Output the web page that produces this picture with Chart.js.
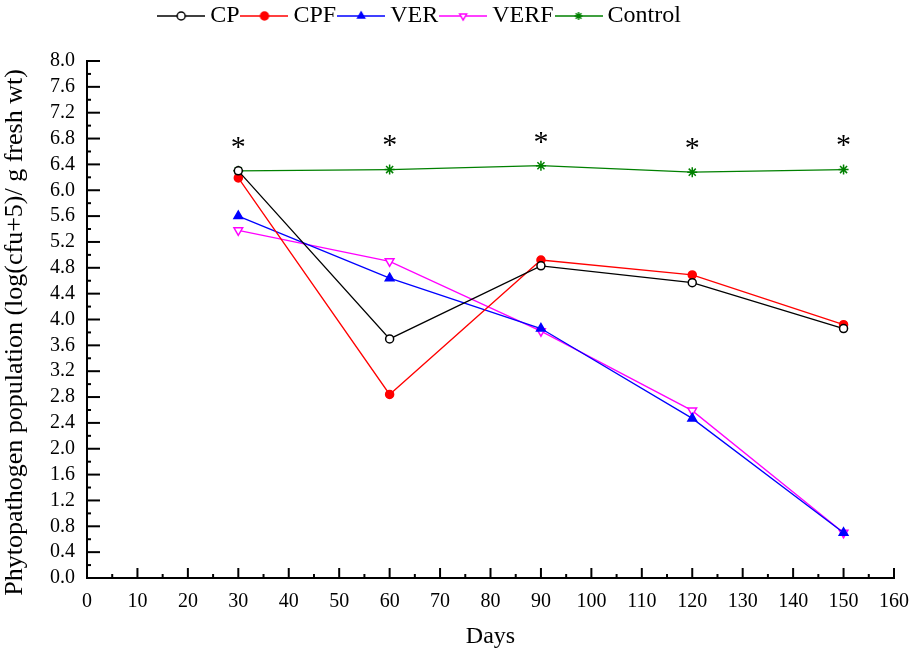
<!DOCTYPE html>
<html>
<head>
<meta charset="utf-8">
<script src="https://cdn.jsdelivr.net/npm/chart.js@4.4.1/dist/chart.umd.min.js"></script>
<style>
  html, body { margin: 0; padding: 0; background: #fff; }
  #wrap { width: 921px; height: 651px; }
</style>
</head>
<body>
<div id="wrap"><canvas id="c" width="921" height="651"></canvas></div>
<script>
const days = [30, 60, 90, 120, 150];
const cp      = [6.30, 3.70, 4.83, 4.57, 3.86];
const cpf     = [6.19, 2.84, 4.92, 4.69, 3.92];
const ver     = [5.60, 4.64, 3.86, 2.47, 0.70];
const verf    = [5.38, 4.90, 3.82, 2.59, 0.70];
const control = [6.30, 6.32, 6.38, 6.28, 6.32];
const seriesNames = ['CP', 'CPF', 'VER', 'VERF', 'Control'];
const markOnControl = ['*', '*', '*', '*', '*'];

const FONT = '"Liberation Serif", "Times New Roman", serif';

function pts(arr) { return days.map((d, i) => ({ x: d, y: arr[i] })); }

const styles = [
  { color: '#000000', pointStyle: 'circle',   radius: 4, fill: '#ffffff', rotation: 0 },
  { color: '#ff0000', pointStyle: 'circle',   radius: 4, fill: '#ff0000', rotation: 0 },
  { color: '#0000ff', pointStyle: 'triangle', radius: 5, fill: '#0000ff', rotation: 0 },
  { color: '#ff00ff', pointStyle: 'triangle', radius: 5, fill: '#ffffff', rotation: 180 },
  { color: '#008000', pointStyle: 'star',     radius: 5, fill: '#ffffff', rotation: 0 }
];
const seriesData = [cp, cpf, ver, verf, control];

const datasets = seriesData.map((arr, i) => ({
  label: seriesNames[i],
  data: pts(arr),
  borderColor: styles[i].color,
  backgroundColor: styles[i].fill,
  borderWidth: 1.3,
  pointStyle: styles[i].pointStyle,
  pointRadius: styles[i].radius,
  pointRotation: styles[i].rotation,
  pointBorderColor: styles[i].color,
  pointBackgroundColor: styles[i].fill,
  pointBorderWidth: 1.5,
  tension: 0
}));

function legendImage(i) {
  const c = document.createElement('canvas');
  c.width = 48; c.height = 14;
  const g = c.getContext('2d');
  g.strokeStyle = styles[i].color;
  g.lineWidth = 1.5;
  g.beginPath(); g.moveTo(0, 7); g.lineTo(48, 7); g.stroke();
  g.fillStyle = styles[i].fill;
  Chart.helpers.drawPoint(g, {
    pointStyle: styles[i].pointStyle,
    radius: 4,
    rotation: styles[i].rotation,
    borderWidth: 1.3
  }, 24, 7);
  return c;
}

const tickPlugin = {
  id: 'inwardTicks',
  afterDraw(chart) {
    const ctx = chart.ctx;
    const xs = chart.scales.x, ys = chart.scales.y;
    const area = chart.chartArea;
    ctx.save();
    ctx.strokeStyle = '#000';
    ctx.lineWidth = 2;
    xs.ticks.forEach(t => {
      const px = xs.getPixelForValue(t.value);
      ctx.beginPath(); ctx.moveTo(px, area.bottom); ctx.lineTo(px, area.bottom - 10); ctx.stroke();
      if (t.value < xs.max) {
        const pm = xs.getPixelForValue(t.value + 5);
        ctx.beginPath(); ctx.moveTo(pm, area.bottom); ctx.lineTo(pm, area.bottom - 4); ctx.stroke();
      }
    });
    ys.ticks.forEach(t => {
      const py = ys.getPixelForValue(t.value);
      ctx.beginPath(); ctx.moveTo(area.left, py); ctx.lineTo(area.left + 13, py); ctx.stroke();
      if (t.value < ys.max - 0.01) {
        const pm = ys.getPixelForValue(t.value + 0.2);
        ctx.beginPath(); ctx.moveTo(area.left, pm); ctx.lineTo(area.left + 4, pm); ctx.stroke();
      }
    });
    ctx.fillStyle = '#000';
    ctx.font = '30px ' + FONT;
    ctx.textAlign = 'center';
    ctx.textBaseline = 'middle';
    days.forEach((d, i) => {
      const px = xs.getPixelForValue(d);
      const py = ys.getPixelForValue(control[i]);
      ctx.fillText(markOnControl[i], px, py - 23);
    });
    ctx.restore();
  }
};

const shiftLegend = {
  id: 'shiftLegend',
  afterLayout(chart) {
    const lg = chart.legend;
    if (lg) { lg.left -= 29; lg.right -= 29; lg.top -= 23; lg.bottom -= 23; }
  }
};

new Chart(document.getElementById('c'), {
  type: 'line',
  data: { datasets },
  plugins: [tickPlugin, shiftLegend],
  options: {
    responsive: false,
    animation: false,
    devicePixelRatio: 1,
    layout: { padding: { left: 0, right: 18, top: 19, bottom: 0 } },
    plugins: {
      tooltip: { enabled: false },
      legend: {
        position: 'top',
        align: 'center',
        labels: {
          usePointStyle: true,
          pointStyleWidth: 34,
          padding: 8,
          color: '#000',
          font: { family: FONT, size: 24 },
          generateLabels(chart) {
            return chart.data.datasets.map((ds, i) => ({
              text: ds.label,
              pointStyle: legendImage(i),
              datasetIndex: i,
              fontColor: '#000',
              lineWidth: 0,
              strokeStyle: 'transparent',
              fillStyle: 'transparent'
            }));
          }
        }
      }
    },
    scales: {
      x: {
        type: 'linear',
        min: 0, max: 160,
        afterFit(s) { s.height = 73; },
        border: { display: true, color: '#000', width: 2 },
        grid: { display: true, drawOnChartArea: false, drawTicks: false, color: 'transparent' },
        ticks: { stepSize: 10, autoSkip: false, color: '#000', padding: 12, font: { family: FONT, size: 20 }, maxRotation: 0 },
        title: { display: true, text: 'Days', color: '#000', font: { family: FONT, size: 24 }, padding: { top: 16, bottom: 0 } }
      },
      y: {
        type: 'linear',
        min: 0, max: 8,
        afterFit(s) { s.width = 87; },
        border: { display: true, color: '#000', width: 2 },
        grid: { display: true, drawOnChartArea: false, drawTicks: false, color: 'transparent' },
        ticks: { stepSize: 0.4, autoSkip: false, color: '#000', padding: 12, font: { family: FONT, size: 20 },
                 callback: v => Number(v).toFixed(1) },
        title: { display: true, text: 'Phytopathogen population (log(cfu+5)/ g fresh wt)\u2002\u2002', color: '#000',
                 font: { family: FONT, size: 26 }, padding: { top: 0, bottom: 2 } }
      }
    }
  }
});
</script>
</body>
</html>
